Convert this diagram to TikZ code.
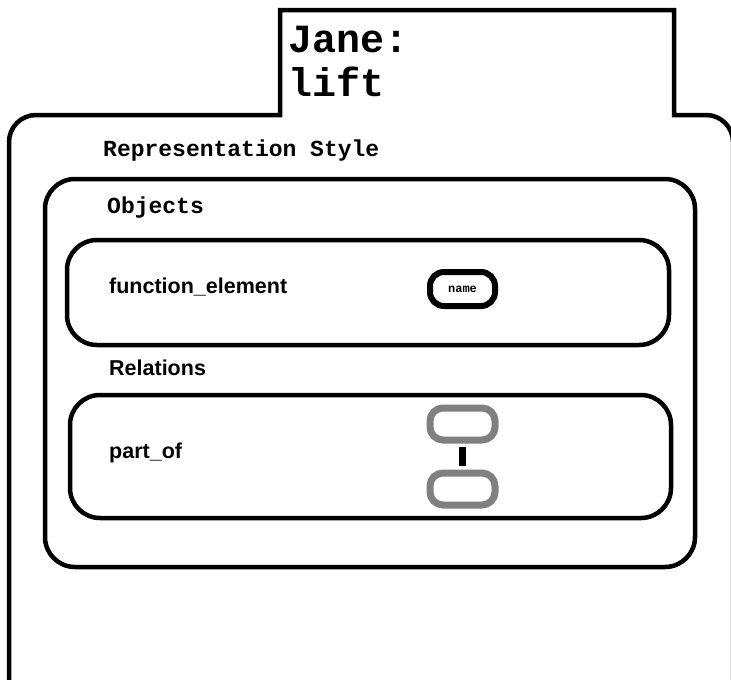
\documentclass[tikz,border=0pt]{standalone}
\usepackage{fontspec}
\setmainfont{Liberation Sans}
\setmonofont{Liberation Mono}
\definecolor{boxgray}{RGB}{128,128,128}

\begin{document}
\begin{tikzpicture}[x=1pt, y=-1pt,
        panel/.style={draw, line width=4.5pt, rounded corners=30pt, inner sep=0pt},
        attrbox/.style={draw, line width=6pt, rounded corners=14pt, inner sep=0pt,
            minimum width=65pt, minimum height=34pt,
            font=\ttfamily\bfseries\fontsize{12}{14}\selectfont},
        rolebox/.style={draw=boxgray, fill=white, line width=7pt, rounded corners=13pt,
            minimum width=65pt, minimum height=32pt},
        link/.style={line width=7pt},
        mono/.style={inner sep=0pt, anchor=base west, font=\ttfamily\bfseries\fontsize{23}{27}\selectfont},
        sans/.style={inner sep=0pt, anchor=base west, font=\bfseries\fontsize{21.5}{25}\selectfont}]

    % the frame
    \useasboundingbox (0,0) rectangle (731,680);
    \path[clip] (0,0) rectangle (731,680);

    % the sheet with its tab
    \draw[line width=4.5pt]
        (9,720) -- (9,300) [rounded corners=27pt] -- (9,115) -- (150,115) [sharp corners]
        -- (280,115) -- (280,10) -- (674,10) -- (674,115)
        -- (700,115) [rounded corners=27pt] -- (733,115) -- (733,300) [sharp corners] -- (733,720);
    \node[inner sep=0pt, anchor=north west, align=left,
        font=\ttfamily\bfseries\fontsize{40}{44}\selectfont] (title) at (288,26) {Jane:\\lift};

    % the style
    \node[mono] (style) at (103,156) {Representation Style};
    \node[panel, minimum width=650pt, minimum height=388pt] (objects) at (370,373) {};
    \node[mono] (objlabel) at (107,213) {Objects};

    % objects
    \node[panel, minimum width=602pt, minimum height=105pt] (funcbox) at (368,292.5) {};
    \node[sans] (func) at (109,293) {function\_element};
    \node[attrbox] (name) at (462.5,289) {name};

    % relations
    \node[sans] (rellabel) at (109,375) {Relations};
    \node[panel, minimum width=601pt, minimum height=123pt] (partbox) at (370.5,456.5) {};
    \node[sans] (part) at (109,458) {part\_of};
    \node[rolebox] (whole) at (462.5,424) {};
    \node[rolebox] (piece) at (462.5,489) {};
    \draw[link, shorten <=3.5pt, shorten >=3.5pt] (whole.south) -- (piece.north);

\end{tikzpicture}
\end{document}
